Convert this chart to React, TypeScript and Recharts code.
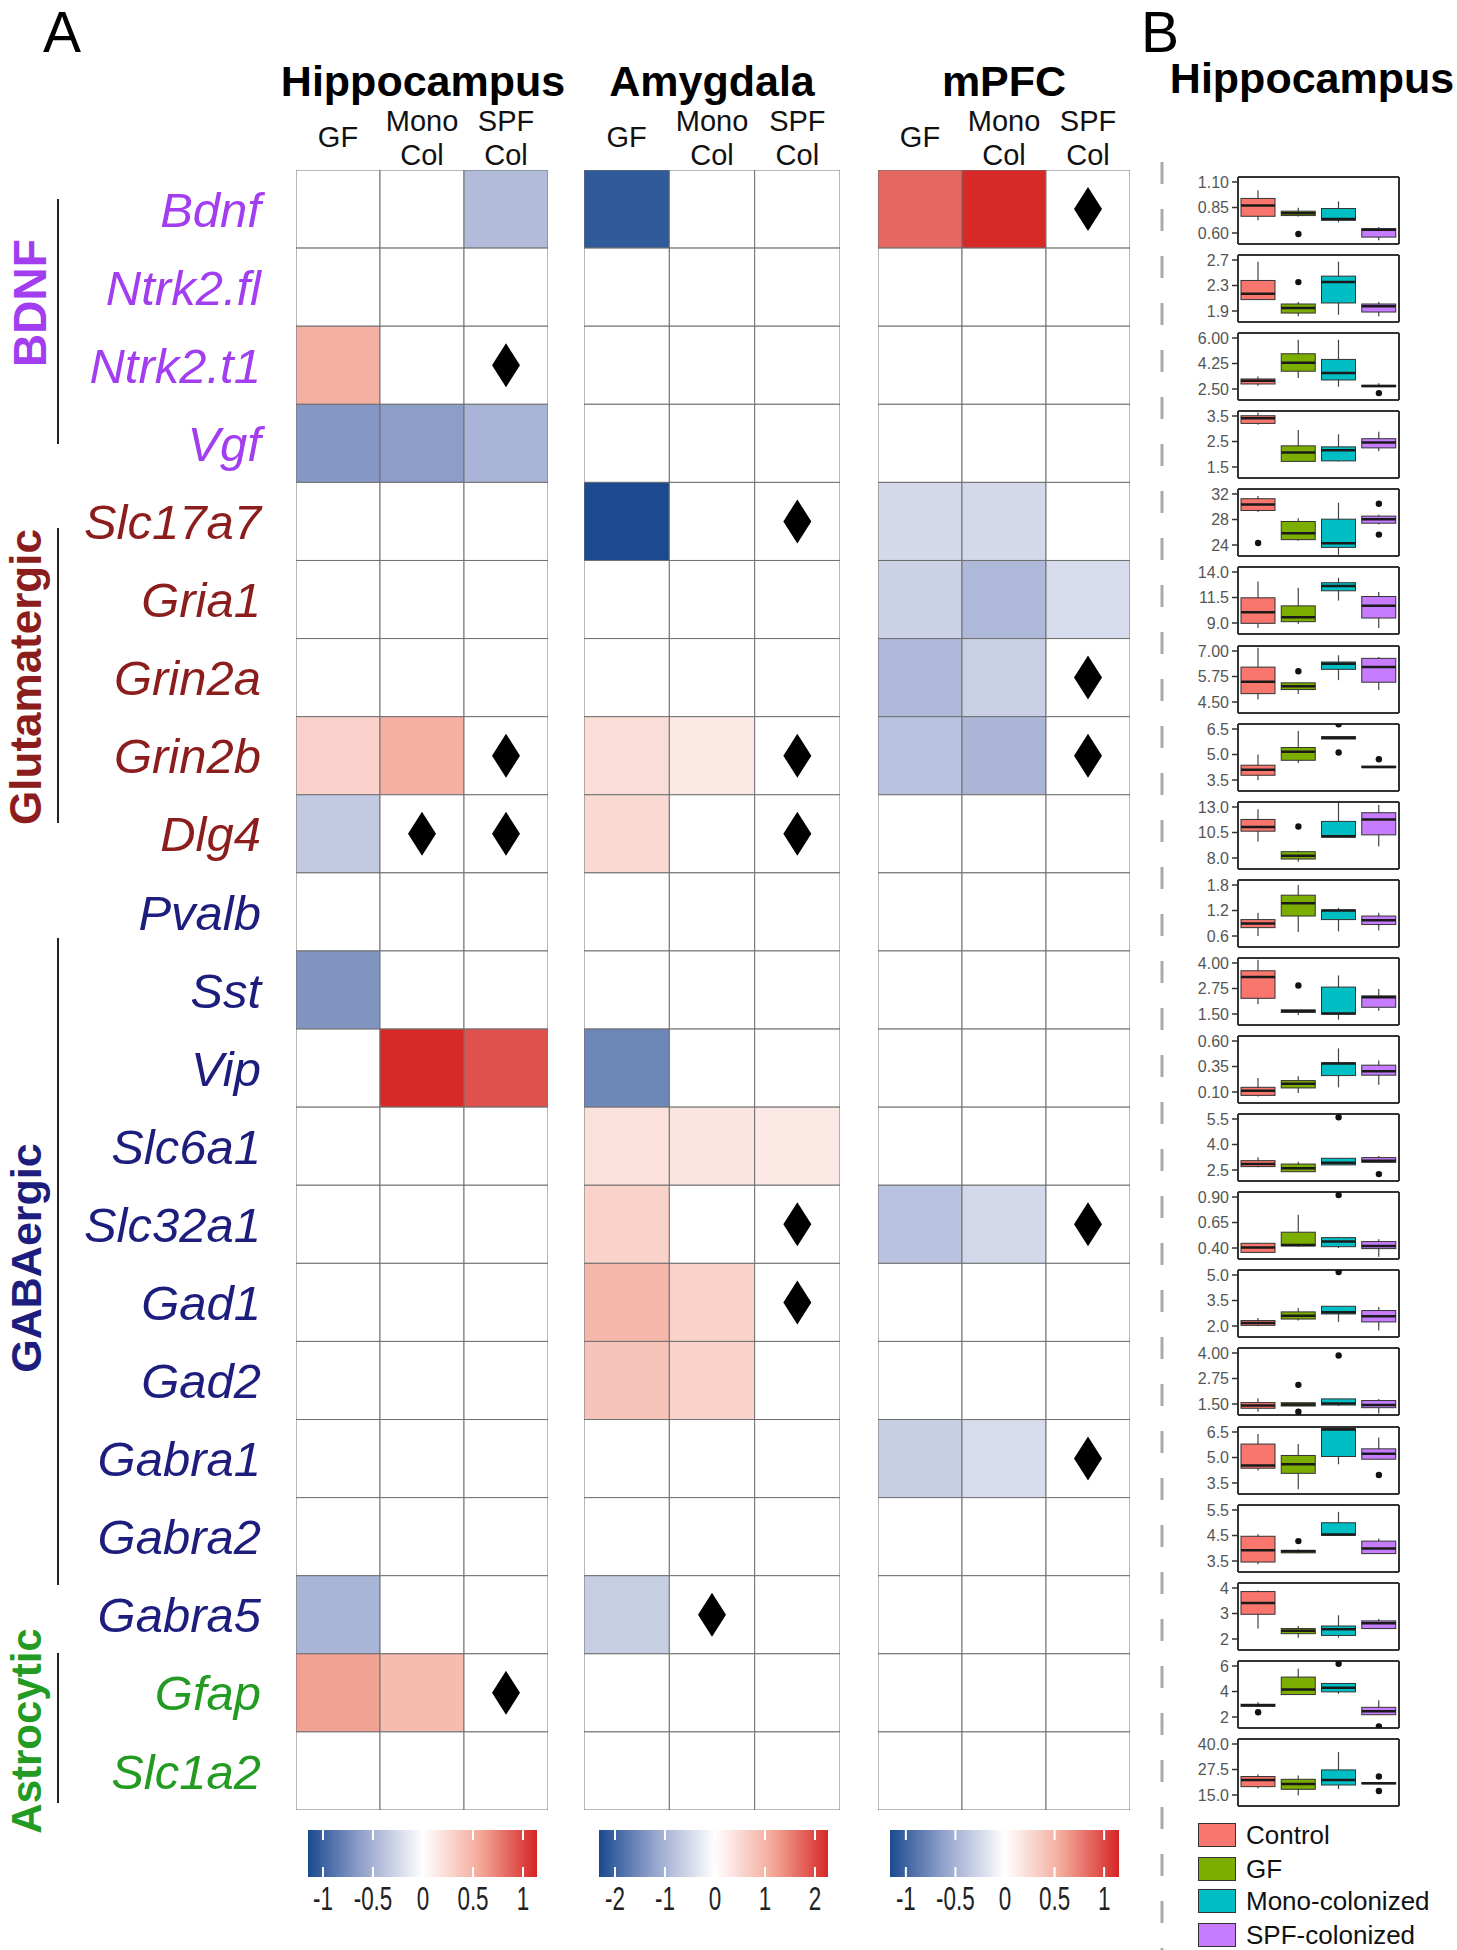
import React from 'react';
import {
  ScatterChart, Scatter, XAxis, YAxis, ReferenceLine,
  ComposedChart, Bar, BarChart,
} from 'recharts';

const FONT = "'Liberation Sans', Arial, Helvetica, sans-serif";

// ---------- panel A : heatmap ----------
const genes = ['Bdnf', 'Ntrk2.fl', 'Ntrk2.t1', 'Vgf', 'Slc17a7', 'Gria1', 'Grin2a', 'Grin2b', 'Dlg4',
  'Pvalb', 'Sst', 'Vip', 'Slc6a1', 'Slc32a1', 'Gad1', 'Gad2', 'Gabra1', 'Gabra2', 'Gabra5', 'Gfap', 'Slc1a2'];
const geneGroup = [0, 0, 0, 0, 1, 1, 1, 1, 1, 2, 2, 2, 2, 2, 2, 2, 2, 2, 2, 3, 3];
const groupNames = ['BDNF', 'Glutamatergic', 'GABAergic', 'Astrocytic'];
const groupColors = ['#a23df0', '#8c1d1d', '#1d1d7d', '#239b23'];
const conditions = ['GF', 'Mono Col', 'SPF Col'];

const hippoValues = [
  [0, 0, -0.44], [0, 0, 0], [0.52, 0, 0], [-0.67, -0.64, -0.49],
  [0, 0, 0], [0, 0, 0], [0, 0, 0], [0.29, 0.52, 0], [-0.35, 0, 0],
  [0, 0, 0], [-0.69, 0, 0], [0, 1.12, 0.95], [0, 0, 0], [0, 0, 0], [0, 0, 0], [0, 0, 0], [0, 0, 0], [0, 0, 0], [-0.49, 0, 0],
  [0.6, 0.44, 0], [0, 0, 0],
];
const amygValues = [
  [-2.1, 0, 0], [0, 0, 0], [0, 0, 0], [0, 0, 0],
  [-2.3, 0, 0], [0, 0, 0], [0, 0, 0], [0.45, 0.3, 0], [0.5, 0, 0],
  [0, 0, 0], [0, 0, 0], [-1.55, 0, 0], [0.4, 0.35, 0.3], [0.6, 0, 0], [0.95, 0.6, 0], [0.8, 0.6, 0], [0, 0, 0], [0, 0, 0], [-0.65, 0, 0],
  [0, 0, 0], [0, 0, 0],
];
const mpfcValues = [
  [0.85, 1.12, 0], [0, 0, 0], [0, 0, 0], [0, 0, 0],
  [-0.25, -0.25, 0], [-0.29, -0.46, -0.23], [-0.46, -0.31, 0], [-0.4, -0.48, 0], [0, 0, 0],
  [0, 0, 0], [0, 0, 0], [0, 0, 0], [0, 0, 0], [-0.4, -0.25, 0], [0, 0, 0], [0, 0, 0], [-0.32, -0.23, 0], [0, 0, 0], [0, 0, 0],
  [0, 0, 0], [0, 0, 0],
];

// significant cells: [gene, condition index]
const hippoSig: [string, number][] = [['Ntrk2.t1', 2], ['Grin2b', 2], ['Dlg4', 1], ['Dlg4', 2], ['Gfap', 2]];
const amygSig: [string, number][] = [['Slc17a7', 2], ['Grin2b', 2], ['Dlg4', 2], ['Slc32a1', 2], ['Gad1', 2], ['Gabra5', 1]];
const mpfcSig: [string, number][] = [['Bdnf', 2], ['Grin2a', 2], ['Grin2b', 2], ['Slc32a1', 2], ['Gabra1', 2]];

// colour scale ranges and ticks
const hippoScale = [-1.15, 1.14];
const amygScale = [-2.32, 2.26];
const mpfcScale = [-1.16, 1.15];
const smallTicks = [-1, -0.5, 0, 0.5, 1];
const amygTicks = [-2, -1, 0, 1, 2];

// ---------- panel B : box plots (hippocampus) ----------
const boxGroups = ['Control', 'GF', 'Mono-colonized', 'SPF-colonized'];
const boxColors = ['#f8766d', '#7cae00', '#00bfc4', '#c77cff'];

// y tick labels per gene, low -> high
const boxTicks = [
  ['0.60', '0.85', '1.10'], ['1.9', '2.3', '2.7'], ['2.50', '4.25', '6.00'], ['1.5', '2.5', '3.5'],
  ['24', '28', '32'], ['9.0', '11.5', '14.0'], ['4.50', '5.75', '7.00'], ['3.5', '5.0', '6.5'], ['8.0', '10.5', '13.0'],
  ['0.6', '1.2', '1.8'], ['1.50', '2.75', '4.00'], ['0.10', '0.35', '0.60'], ['2.5', '4.0', '5.5'], ['0.40', '0.65', '0.90'],
  ['2.0', '3.5', '5.0'], ['1.50', '2.75', '4.00'], ['3.5', '5.0', '6.5'], ['3.5', '4.5', '5.5'], ['2', '3', '4'],
  ['2', '4', '6'], ['15.0', '27.5', '40.0'],
];

// [lower whisker, q1, median, q3, upper whisker]
const controlStats = [
  [0.725, 0.764, 0.87, 0.939, 1.02], [2.079, 2.079, 2.169, 2.379, 2.674], [2.73, 2.846, 3.075, 3.19, 3.35], [3.16, 3.21, 3.41, 3.51, 3.64],
  [29.16, 29.42, 30.37, 31.26, 31.68], [8.5, 8.97, 10.05, 11.47, 13.08], [4.62, 4.91, 5.49, 6.21, 7.16], [3.48, 3.78, 4.11, 4.37, 5.0],
  [9.61, 10.63, 11.03, 11.78, 12.77], [0.6, 0.797, 0.892, 0.986, 1.15], [1.98, 2.27, 3.31, 3.62, 4.16], [0.057, 0.067, 0.113, 0.146, 0.238],
  [2.66, 2.7, 2.85, 3.05, 3.25], [0.35, 0.357, 0.406, 0.446, 0.452], [1.98, 2.04, 2.18, 2.32, 2.47], [1.12, 1.29, 1.43, 1.57, 1.78],
  [4.23, 4.37, 4.53, 5.79, 6.38], [3.37, 3.46, 3.92, 4.47, 4.55], [2.41, 2.97, 3.41, 3.86, 3.9], [2.84, 2.84, 2.92, 3.0, 3.16],
  [18.3, 19.1, 22.4, 24.05, 25.2],
];
const gfStats = [
  [0.761, 0.771, 0.794, 0.814, 0.847], [1.816, 1.868, 1.947, 2.01, 2.04], [3.26, 3.72, 4.3, 4.918, 5.88], [1.7, 1.72, 2.07, 2.33, 2.95],
  [24.68, 24.84, 25.84, 27.69, 28.21], [8.9, 9.13, 9.56, 10.68, 12.45], [4.89, 5.11, 5.27, 5.44, 5.44], [4.5, 4.66, 5.16, 5.41, 6.38],
  [7.64, 7.9, 8.23, 8.62, 8.72], [0.695, 1.07, 1.37, 1.56, 1.8], [1.45, 1.58, 1.65, 1.7, 1.7], [0.09, 0.14, 0.182, 0.212, 0.255],
  [2.4, 2.4, 2.6, 2.85, 2.99], [0.413, 0.42, 0.43, 0.555, 0.726], [2.32, 2.41, 2.61, 2.83, 3.06], [1.4, 1.4, 1.48, 1.565, 1.565],
  [3.13, 4.07, 4.6, 5.12, 5.79], [3.8, 3.82, 3.88, 3.92, 3.95], [2.05, 2.21, 2.32, 2.41, 2.51], [3.76, 3.76, 4.16, 5.13, 5.79],
  [14.7, 17.8, 20.4, 22.7, 24.5],
];
const monoStats = [
  [0.705, 0.725, 0.738, 0.84, 0.91], [1.842, 2.026, 2.353, 2.447, 2.674], [2.66, 3.12, 3.6, 4.53, 5.88], [1.72, 1.74, 2.16, 2.29, 2.78],
  [22.47, 23.63, 24.26, 28.05, 30.63], [11.2, 12.16, 12.62, 12.95, 13.44], [5.57, 6.1, 6.37, 6.46, 6.79], [5.91, 5.91, 5.99, 6.05, 6.05],
  [10.04, 10.04, 10.14, 11.59, 13.4], [0.71, 0.986, 1.2, 1.21, 1.26], [1.22, 1.5, 1.53, 2.82, 3.39], [0.146, 0.261, 0.38, 0.386, 0.528],
  [2.78, 2.8, 2.93, 3.19, 3.19], [0.4, 0.413, 0.463, 0.502, 0.51], [2.24, 2.71, 2.81, 3.16, 3.16], [1.4, 1.45, 1.53, 1.75, 1.75],
  [4.6, 5.06, 6.64, 6.7, 6.75], [4.51, 4.51, 4.54, 5.0, 5.43], [2.05, 2.14, 2.38, 2.51, 2.93], [3.82, 3.97, 4.29, 4.63, 4.63],
  [17.9, 19.9, 22.4, 27.3, 36.0],
];
const spfStats = [
  [0.528, 0.56, 0.633, 0.643, 0.66], [1.816, 1.884, 1.974, 2.01, 2.04], [2.66, 2.66, 2.71, 2.75, 2.89], [2.12, 2.25, 2.46, 2.61, 2.88],
  [27.2, 27.42, 28.05, 28.53, 28.74], [8.5, 9.49, 10.68, 11.6, 12.03], [5.09, 5.47, 6.21, 6.64, 6.7], [4.23, 4.23, 4.27, 4.31, 4.31],
  [9.12, 10.27, 11.78, 12.44, 13.2], [0.73, 0.87, 0.97, 1.07, 1.15], [1.66, 1.83, 2.32, 2.39, 2.73], [0.172, 0.265, 0.304, 0.363, 0.41],
  [2.93, 2.95, 3.05, 3.23, 3.33], [0.314, 0.394, 0.42, 0.463, 0.487], [1.74, 2.24, 2.57, 2.91, 3.12], [1.04, 1.32, 1.45, 1.67, 1.75],
  [4.9, 4.9, 5.22, 5.51, 6.18], [3.79, 3.79, 3.99, 4.28, 4.38], [2.41, 2.41, 2.62, 2.71, 2.78], [2.18, 2.18, 2.45, 2.76, 3.32],
  [20.5, 20.5, 20.75, 21.0, 21.0],
];
const boxStats = [controlStats, gfStats, monoStats, spfStats];

// outliers per gene: [group index, value]
const outliers: [number, number][][] = [
  [[1, 0.59]], [[1, 2.353]], [[3, 2.22]], [],
  [[0, 24.32], [3, 30.47], [3, 25.63]], [], [[1, 6.01]], [[2, 6.78], [2, 5.12], [3, 4.72]], [[1, 11.09]],
  [], [[1, 2.9]], [], [[2, 5.6], [3, 2.26]], [[2, 0.92]], [[2, 5.18]], [[1, 2.44], [1, 1.12], [2, 3.88]], [[3, 3.97]], [[1, 4.28]], [],
  [[0, 2.37], [2, 6.18], [3, 1.26]], [[3, 24.05], [3, 17.0]],
];

// ---------- layout ----------
const GRID_TOP = 170;
const GRID_H = 1640;
const ROW_H = GRID_H / genes.length;

const NEG = [[255, 255, 255], [154, 168, 207], [27, 74, 144]];
const POS = [[255, 255, 255], [243, 168, 152], [212, 34, 34]];
function heatColor(v: number, vmax: number) {
  const t = Math.min(1, Math.abs(v) / vmax);
  const s = v < 0 ? NEG : POS;
  const [a, b, u] = t < 0.5 ? [s[0], s[1], t / 0.5] : [s[1], s[2], (t - 0.5) / 0.5];
  const c = (a as number[]).map((x, k) => Math.round(x + ((b as number[])[k] - x) * (u as number)));
  return `rgb(${c[0]},${c[1]},${c[2]})`;
}

const separators = geneGroup
  .map((g, i) => (i > 0 && g !== geneGroup[i - 1] ? i - 0.5 : null))
  .filter((v) => v !== null) as number[];

const GeneTick = (p: any) => {
  const i = p.payload.value;
  return (
    <text x={p.x} y={p.y} dy="0.36em" textAnchor="end" fontStyle="italic" fontSize={49}
      fontFamily={FONT} fill={groupColors[geneGroup[i]]}>{genes[i]}</text>
  );
};

const ColTick = (p: any) => {
  const parts = conditions[p.payload.value].split(' ');
  const common = { x: p.x, textAnchor: 'middle' as const, fontSize: 29, fontFamily: FONT, fill: '#111' };
  if (parts.length === 1) return <text {...common} y={p.y - 23}>{parts[0]}</text>;
  return (
    <g>
      <text {...common} y={p.y - 39}>{parts[0]}</text>
      <text {...common} y={p.y - 5}>{parts[1]}</text>
    </g>
  );
};

const Diamond = (p: any) => (
  <polygon points={`${p.cx},${p.cy - 22} ${p.cx + 14},${p.cy} ${p.cx},${p.cy + 22} ${p.cx - 14},${p.cy}`} fill="#000" />
);

function HeatRegion({ values, sig, vmax, plotW, axisW }: any) {
  const cellW = plotW / conditions.length;
  const cells = values.flatMap((row: number[], r: number) => row.map((v, c) => ({ x: c, y: r, v })));
  const sigCells = sig.map(([g, c]: [string, number]) => ({ x: c, y: genes.indexOf(g) }));
  const CellShape = (p: any) => (
    <rect x={p.cx - cellW / 2} y={p.cy - ROW_H / 2} width={cellW} height={ROW_H}
      fill={heatColor(p.payload.v, vmax)} stroke="#707070" strokeWidth={1} />
  );
  return (
    <ScatterChart width={axisW + plotW} height={GRID_TOP + GRID_H + 2}
      margin={{ top: GRID_TOP - 60, right: 0, bottom: 2, left: 0 }}>
      <XAxis type="number" dataKey="x" orientation="top" domain={[-0.5, conditions.length - 0.5]}
        ticks={conditions.map((_, i) => i)} interval={0} height={60} tickSize={0} tickMargin={0}
        axisLine={false} tickLine={false} tick={ColTick} allowDataOverflow />
      <YAxis type="number" dataKey="y" domain={[-0.5, genes.length - 0.5]} reversed
        ticks={genes.map((_, i) => i)} interval={0} width={axisW} hide={axisW === 0}
        tickSize={0} tickMargin={35} axisLine={false} tickLine={false} tick={GeneTick} allowDataOverflow />
      <Scatter data={cells} shape={CellShape} isAnimationActive={false} />
      {separators.map((y) => <ReferenceLine key={y} y={y} stroke="#000" strokeWidth={3.5} />)}
      <Scatter data={sigCells} shape={Diamond} isAnimationActive={false} />
    </ScatterChart>
  );
}

const BarTick = (p: any) => (
  <text transform={`translate(${p.x},${p.y}) scale(0.68,1)`} textAnchor="middle" dy="0.71em"
    fontSize={33} fontFamily={FONT} fill="#222">{p.payload.value}</text>
);

function ColorBar({ id, range, ticks, plotW }: any) {
  const [lo, hi] = range;
  const vmax = Math.max(-lo, hi);
  const n = 30;
  const stops = Array.from({ length: n + 1 }, (_, k) => lo + ((hi - lo) * k) / n);
  return (
    <BarChart layout="vertical" width={plotW + 40} height={47 + 45} data={[{ name: 'scale', range: [lo, hi] }]}
      margin={{ top: 0, right: 20, bottom: 0, left: 20 }} barCategoryGap={0}>
      <defs>
        <linearGradient id={id} x1="0" y1="0" x2="1" y2="0">
          {stops.map((v, k) => <stop key={k} offset={`${(k / n) * 100}%`} stopColor={heatColor(v, vmax)} />)}
        </linearGradient>
      </defs>
      <XAxis type="number" domain={[lo, hi]} ticks={ticks} interval={0} height={45} tickSize={0} tickMargin={10}
        axisLine={false} tickLine={false} tick={BarTick} allowDataOverflow />
      <YAxis type="category" dataKey="name" hide />
      <Bar dataKey="range" fill={`url(#${id})`} isAnimationActive={false} />
      {ticks.map((t: number) => (
        <ReferenceLine key={t} x={t} stroke="#fff" strokeWidth={2} strokeDasharray="10 27" />
      ))}
    </BarChart>
  );
}

const Whisker = (p: any) => (
  <line x1={p.x + p.width / 2} x2={p.x + p.width / 2} y1={p.y} y2={p.y + p.height} stroke="#444" strokeWidth={1.2} />
);
const BoxRect = (p: any) => (
  <rect x={p.x} y={p.y} width={p.width} height={Math.max(p.height, 0.5)}
    fill={boxColors[p.payload.k]} stroke="#333" strokeWidth={1} />
);
const Median = (p: any) => (
  <line x1={p.x} x2={p.x + p.width} y1={p.y} y2={p.y} stroke="#1a1a1a" strokeWidth={2.5} />
);
const Outlier = (p: any) => <circle cx={p.cx} cy={p.cy} r={3.2} fill="#111" />;

const frameLine = { stroke: '#333', strokeWidth: 2 };

function BoxPanel({ i }: { i: number }) {
  const labels = boxTicks[i];
  const ticks = labels.map(Number);
  const lo = ticks[0];
  const hi = ticks[2];
  const span = (hi - lo) / 0.761;
  const domain = [lo - 0.164 * span, hi + 0.0746 * span];
  const data = boxGroups.map((g, k) => {
    const s = boxStats[k][i];
    return { g, k, whisk: [s[0], s[4]], box: [s[1], s[3]], med: [s[2], s[2]] };
  });
  const out = outliers[i].map(([k, v]) => ({ g: boxGroups[k], v }));
  const fmt = (v: number) => labels[ticks.indexOf(v)] ?? String(v);
  return (
    <ComposedChart width={212} height={78} data={data} margin={{ top: 6, right: 0, bottom: 3, left: 0 }}>
      <XAxis xAxisId="a" dataKey="g" type="category" allowDuplicatedCategory={false} height={1}
        tick={false} tickLine={false} axisLine={frameLine} />
      <XAxis xAxisId="b" dataKey="g" type="category" orientation="top" allowDuplicatedCategory={false} height={1}
        tick={false} tickLine={false} axisLine={frameLine} />
      <XAxis xAxisId="c" dataKey="g" type="category" allowDuplicatedCategory={false} hide />
      <YAxis yAxisId="l" type="number" domain={domain} ticks={ticks} interval={0} allowDataOverflow width={50}
        tickSize={6} tickMargin={3} tickFormatter={fmt}
        tick={{ fontSize: 16, fill: '#555', fontFamily: FONT }}
        tickLine={{ stroke: '#333', strokeWidth: 1.5 }} axisLine={frameLine} />
      <YAxis yAxisId="r" orientation="right" type="number" domain={domain} allowDataOverflow width={1}
        tick={false} tickLine={false} axisLine={frameLine} />
      <Bar xAxisId="a" yAxisId="l" dataKey="whisk" barSize={34} shape={Whisker} isAnimationActive={false} />
      <Bar xAxisId="b" yAxisId="l" dataKey="box" barSize={34} shape={BoxRect} isAnimationActive={false} />
      <Bar xAxisId="c" yAxisId="l" dataKey="med" barSize={34} shape={Median} isAnimationActive={false} />
      <Scatter xAxisId="a" yAxisId="l" data={out} dataKey="v" shape={Outlier} isAnimationActive={false} />
    </ComposedChart>
  );
}

// decoration positions (pixels)
const bracketSpans = [[199, 444], [528, 823], [938, 1585], [1653, 1803]];
const groupLabelY = [303, 677, 1258, 1731];
const groupLabelX = [46, 41, 41, 41];
const groupLabelSize = [46, 44, 43, 42];
const regionTitles = [
  { text: 'Hippocampus', x: 423, y: 96 },
  { text: 'Amygdala', x: 712, y: 96 },
  { text: 'mPFC', x: 1004, y: 96 },
  { text: 'Hippocampus', x: 1312, y: 93 },
];
const legendTops = [1823, 1857, 1889, 1923];

const abs = (left: number, top: number): React.CSSProperties => ({ position: 'absolute', left, top });

export default function App() {
  return (
    <div style={{ position: 'absolute', left: 0, top: 0, width: 1457, height: 1950, background: '#fff', fontFamily: FONT, overflow: 'hidden' }}>
      <svg width={1457} height={1950} style={abs(0, 0)}>
        <text x={43} y={52} fontSize={57} fontFamily={FONT} fill="#000">A</text>
        <text x={1141} y={52} fontSize={57} fontFamily={FONT} fill="#000">B</text>
        {regionTitles.map((t, k) => (
          <text key={k} x={t.x} y={t.y} textAnchor="middle" fontSize={43} fontWeight="bold" fontFamily={FONT} fill="#000">{t.text}</text>
        ))}
        {groupNames.map((g, k) => (
          <text key={g} transform={`translate(${groupLabelX[k]},${groupLabelY[k]}) rotate(-90)`} textAnchor="middle"
            fontSize={groupLabelSize[k]} fontWeight="bold" fontFamily={FONT} fill={groupColors[k]}>{g}</text>
        ))}
        {bracketSpans.map(([a, b], k) => (
          <line key={k} x1={58} x2={58} y1={a} y2={b} stroke="#222" strokeWidth={2} />
        ))}
        <line x1={1162} x2={1162} y1={162} y2={1950} stroke="#aaa" strokeWidth={3} strokeDasharray="22 25" />
      </svg>

      <div style={abs(0, 0)}>
        <HeatRegion values={hippoValues} sig={hippoSig} vmax={1.15} plotW={252} axisW={296} />
      </div>
      <div style={abs(584, 0)}>
        <HeatRegion values={amygValues} sig={amygSig} vmax={2.3} plotW={256} axisW={0} />
      </div>
      <div style={abs(878, 0)}>
        <HeatRegion values={mpfcValues} sig={mpfcSig} vmax={1.15} plotW={252} axisW={0} />
      </div>

      <div style={abs(288, 1830)}>
        <ColorBar id="gradHippo" range={hippoScale} ticks={smallTicks} plotW={229} />
      </div>
      <div style={abs(579, 1830)}>
        <ColorBar id="gradAmyg" range={amygScale} ticks={amygTicks} plotW={229} />
      </div>
      <div style={abs(870, 1830)}>
        <ColorBar id="gradMpfc" range={mpfcScale} ticks={smallTicks} plotW={229} />
      </div>

      {genes.map((g, i) => (
        <div key={g} style={abs(1188, GRID_TOP + i * ROW_H)}>
          <BoxPanel i={i} />
        </div>
      ))}

      {boxGroups.map((g, k) => (
        <div key={g} style={{ ...abs(1198, legendTops[k]), display: 'flex', alignItems: 'center', height: 24 }}>
          <div style={{ width: 36, height: 22, background: boxColors[k], border: '1px solid #333' }} />
          <span style={{ marginLeft: 10, fontSize: 26, color: '#111', lineHeight: '24px' }}>{g}</span>
        </div>
      ))}
    </div>
  );
}
